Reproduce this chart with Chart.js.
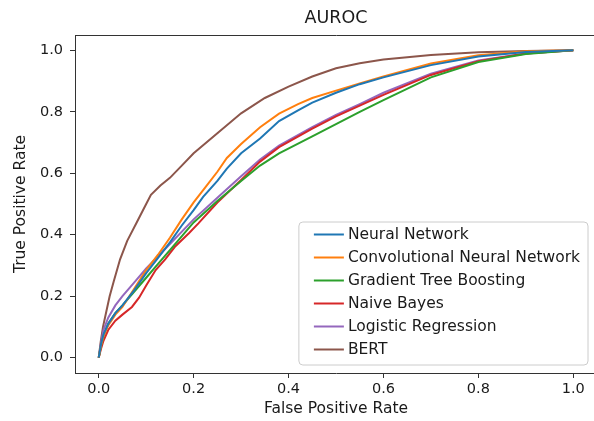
<!DOCTYPE html>
<html>
<head>
<meta charset="utf-8">
<script src="https://cdn.jsdelivr.net/npm/chart.js@4.4.1/dist/chart.umd.min.js"></script>
<style>
html,body{margin:0;padding:0;background:#fff;overflow:hidden}
#wrap{width:600px;height:421px}
</style>
</head>
<body>
<div id="wrap"><canvas id="c" width="600" height="421"></canvas></div>
<script>
// ---- data ----
const chartTitle = 'AUROC';
const xAxisTitle = 'False Positive Rate';
const yAxisTitle = 'True Positive Rate';
const xTickValues = [0, 0.2, 0.4, 0.6, 0.8, 1.0];
const yTickValues = [0, 0.2, 0.4, 0.6, 0.8, 1.0];

const seriesNames = ['Neural Network', 'Convolutional Neural Network', 'Gradient Tree Boosting',
                     'Naive Bayes', 'Logistic Regression', 'BERT'];
const seriesColors = ['#1f77b4', '#ff7f0e', '#2ca02c', '#d62728', '#9467bd', '#8c564b'];

const nnFpr  = [0, .005, .01, .02, .035, .05, .075, .1, .125, .15, .175, .2, .22, .25, .27, .3, .34, .38, .42, .45, .5, .55, .6, .7, .8, .9, 1];
const nnTpr  = [0, .045, .075, .11, .145, .17, .22, .275, .325, .375, .43, .48, .523, .575, .615, .665, .713, .77, .805, .83, .862, .89, .912, .952, .98, .995, 1];

const cnnFpr = [0, .005, .01, .02, .035, .05, .075, .1, .125, .15, .175, .2, .225, .25, .27, .3, .34, .38, .42, .45, .5, .55, .6, .7, .8, .9, 1];
const cnnTpr = [0, .04, .07, .105, .14, .165, .225, .285, .335, .39, .45, .505, .555, .605, .65, .695, .75, .794, .825, .845, .869, .892, .915, .957, .984, .997, 1];

const gtbFpr = [0, .005, .01, .02, .035, .05, .075, .1, .125, .15, .2, .25, .3, .34, .38, .45, .5, .55, .6, .7, .8, .9, 1];
const gtbTpr = [0, .04, .07, .11, .145, .17, .215, .26, .305, .35, .44, .51, .575, .625, .665, .72, .76, .80, .838, .912, .962, .988, 1];

const nbFpr  = [0, .005, .01, .02, .035, .05, .07, .085, .1, .12, .14, .16, .19, .21, .25, .3, .34, .38, .45, .5, .55, .6, .7, .8, .9, 1];
const nbTpr  = [0, .03, .055, .09, .12, .14, .165, .195, .235, .285, .32, .36, .405, .437, .505, .578, .638, .685, .745, .785, .82, .855, .92, .965, .99, 1];

const lrFpr  = [0, .005, .01, .02, .035, .05, .075, .1, .125, .15, .2, .25, .3, .34, .38, .45, .5, .55, .6, .7, .8, .9, 1];
const lrTpr  = [0, .05, .09, .13, .17, .2, .245, .29, .33, .37, .45, .52, .59, .645, .69, .75, .79, .825, .862, .924, .967, .99, 1];

const bertFpr = [0, .004, .009, .016, .023, .032, .045, .06, .08, .1, .11, .13, .15, .175, .2, .25, .3, .35, .4, .45, .5, .55, .6, .7, .8, .9, 1];
const bertTpr = [0, .05, .1, .15, .2, .25, .32, .38, .44, .5, .53, .56, .585, .625, .665, .73, .795, .845, .882, .915, .942, .958, .97, .985, .994, .998, 1];

const seriesFpr = [nnFpr, cnnFpr, gtbFpr, nbFpr, lrFpr, bertFpr];
const seriesTpr = [nnTpr, cnnTpr, gtbTpr, nbTpr, lrTpr, bertTpr];

// ---- styling ----
const FONT = '"DejaVu Sans", "Liberation Sans", sans-serif';
const TEXT = '#1a1a1a';
const AXIS = '#333333';

const datasets = seriesNames.map((name, i) => ({
  label: name,
  data: seriesFpr[i].map((x, j) => ({x: x, y: seriesTpr[i][j]})),
  borderColor: seriesColors[i],
  backgroundColor: seriesColors[i],
  borderWidth: 2,
  pointRadius: 0,
  tension: 0,
  fill: false,
  xAxisID: 'x',
  yAxisID: 'y'
}));

const mplLegend = {
  id: 'mplLegend',
  afterDraw(chart) {
    const ctx = chart.ctx;
    const area = chart.chartArea;
    const ds = chart.data.datasets;
    ctx.save();
    ctx.font = '15.5px ' + FONT;
    let maxW = 0;
    ds.forEach(d => { maxW = Math.max(maxW, ctx.measureText(d.label).width); });
    const right = area.right - 9;
    const bottom = area.bottom - 8;
    const rowH = 23;
    const h = 143;
    const w = 49 + maxW + 8;
    const left = right - w;
    const top = bottom - h;
    const r = 4;
    ctx.beginPath();
    ctx.moveTo(left + r, top);
    ctx.lineTo(right - r, top);
    ctx.quadraticCurveTo(right, top, right, top + r);
    ctx.lineTo(right, bottom - r);
    ctx.quadraticCurveTo(right, bottom, right - r, bottom);
    ctx.lineTo(left + r, bottom);
    ctx.quadraticCurveTo(left, bottom, left, bottom - r);
    ctx.lineTo(left, top + r);
    ctx.quadraticCurveTo(left, top, left + r, top);
    ctx.closePath();
    ctx.fillStyle = 'rgba(255,255,255,0.8)';
    ctx.fill();
    ctx.strokeStyle = '#cccccc';
    ctx.lineWidth = 1;
    ctx.stroke();
    ctx.textAlign = 'left';
    ctx.textBaseline = 'middle';
    ds.forEach((d, i) => {
      const y = top + 12.5 + i * rowH;
      ctx.strokeStyle = d.borderColor;
      ctx.lineWidth = 2;
      ctx.beginPath();
      ctx.moveTo(left + 15, y);
      ctx.lineTo(left + 45, y);
      ctx.stroke();
      ctx.fillStyle = TEXT;
      ctx.fillText(d.label, left + 49, y);
    });
    ctx.restore();
  }
};

new Chart(document.getElementById('c'), {
  type: 'line',
  data: { datasets: datasets },
  plugins: [mplLegend],
  options: {
    responsive: false,
    animation: false,
    devicePixelRatio: 1,
    layout: { padding: { left: 0, right: 3, top: 0, bottom: 0 } },
    plugins: { legend: { display: false }, title: { display: false }, tooltip: { enabled: false } },
    scales: {
      x: {
        type: 'linear', position: 'bottom', min: -0.05, max: 1.05,
        afterBuildTicks: s => { s.ticks = xTickValues.map(v => ({value: v})); },
        afterFit: s => { s.height = 48; },
        ticks: { font: { family: FONT, size: 14.5 }, color: TEXT, padding: 3, maxRotation: 0, autoSkip: false,
                 callback: v => Number(v).toFixed(1) },
        grid: { display: true, drawOnChartArea: false, drawTicks: true, tickLength: 5, color: AXIS, lineWidth: 1 },
        border: { display: true, color: AXIS, width: 1 },
        title: { display: true, text: xAxisTitle, font: { family: FONT, size: 15.5 }, color: TEXT, padding: { top: 0, bottom: 3 } }
      },
      y: {
        type: 'linear', position: 'left', min: -0.05, max: 1.05,
        afterBuildTicks: s => { s.ticks = yTickValues.map(v => ({value: v})); },
        afterFit: s => { s.width = 75; },
        ticks: { font: { family: FONT, size: 14.5 }, color: TEXT, padding: 7, autoSkip: false,
                 callback: v => Number(v).toFixed(1) },
        grid: { display: true, drawOnChartArea: false, drawTicks: true, tickLength: 5, color: AXIS, lineWidth: 1 },
        border: { display: true, color: AXIS, width: 1 },
        title: { display: true, text: yAxisTitle, font: { family: FONT, size: 15.5 }, color: TEXT, padding: { top: 12, bottom: 0 } }
      },
      xTop: {
        type: 'linear', position: 'top', min: -0.05, max: 1.05,
        afterFit: s => { s.height = 35; },
        ticks: { display: false },
        grid: { display: true, drawOnChartArea: false, drawTicks: false },
        border: { display: true, color: AXIS, width: 1 },
        title: { display: true, text: chartTitle, font: { family: FONT, size: 17.5 }, color: TEXT, padding: { top: 8, bottom: 0 } }
      },
      yRight: {
        type: 'linear', position: 'right', min: -0.05, max: 1.05,
        afterFit: s => { s.width = 0; },
        ticks: { display: false },
        grid: { display: true, drawOnChartArea: false, drawTicks: false },
        border: { display: true, color: AXIS, width: 1 }
      }
    }
  }
});
</script>
</body>
</html>
